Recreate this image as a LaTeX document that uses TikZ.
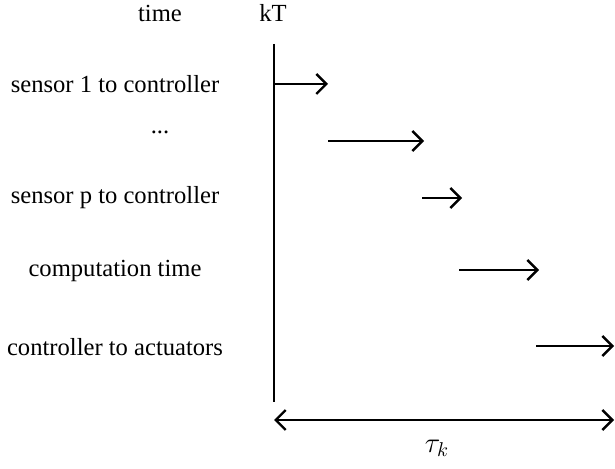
\documentclass[tikz,border=0pt]{standalone}
\usepackage{fontspec}
\setmainfont{Liberation Serif}
\usetikzlibrary{arrows.meta}
\begin{document}
\begin{tikzpicture}[x=0.5pt,y=-0.5pt,
  lbl/.style={inner sep=0pt,font=\fontsize{12.3}{14}\selectfont},
  seg/.style={line width=1.2pt,-{Straight Barb[length=5pt,width=10pt,line width=1.2pt]}},
  dseg/.style={line width=1.2pt,{Straight Barb[length=5pt,width=10pt,line width=1.2pt]}-{Straight Barb[length=5pt,width=10pt,line width=1.2pt]}}]
\useasboundingbox (0,0) rectangle (615,469);
\node[lbl] (time) at (160,13) {time};
\node[lbl] (kT) at (273,13) {kT};
\node[lbl] (s1) at (115,84) {sensor 1 to controller};
\node[lbl] (dots) at (160,132) {...};
\node[lbl] (sp) at (115,198) {sensor p to controller};
\node[lbl] (comp) at (115,271) {computation time};
\node[lbl] (act) at (115,347) {controller to actuators};
\coordinate (top) at (274,44);
\coordinate (bot) at (274,402);
\draw[line width=1.2pt] (top) -- (bot);
\coordinate (a1s) at (274,84);  \coordinate (a1e) at (328,84);
\coordinate (a2s) at (328,141); \coordinate (a2e) at (424,141);
\coordinate (a3s) at (422,198); \coordinate (a3e) at (462,198);
\coordinate (a4s) at (459,270); \coordinate (a4e) at (539,270);
\coordinate (a5s) at (536,346); \coordinate (a5e) at (614,346);
\coordinate (bl) at (274,420);  \coordinate (br) at (614,420);
\draw[seg] (a1s) -- (a1e);
\draw[seg] (a2s) -- (a2e);
\draw[seg] (a3s) -- (a3e);
\draw[seg] (a4s) -- (a4e);
\draw[seg] (a5s) -- (a5e);
\draw[dseg] (bl) -- (br);
\node[lbl,font=\fontsize{14.5}{16}\selectfont] (tau) at (437,448) {$\tau_k$};
\end{tikzpicture}
\end{document}
